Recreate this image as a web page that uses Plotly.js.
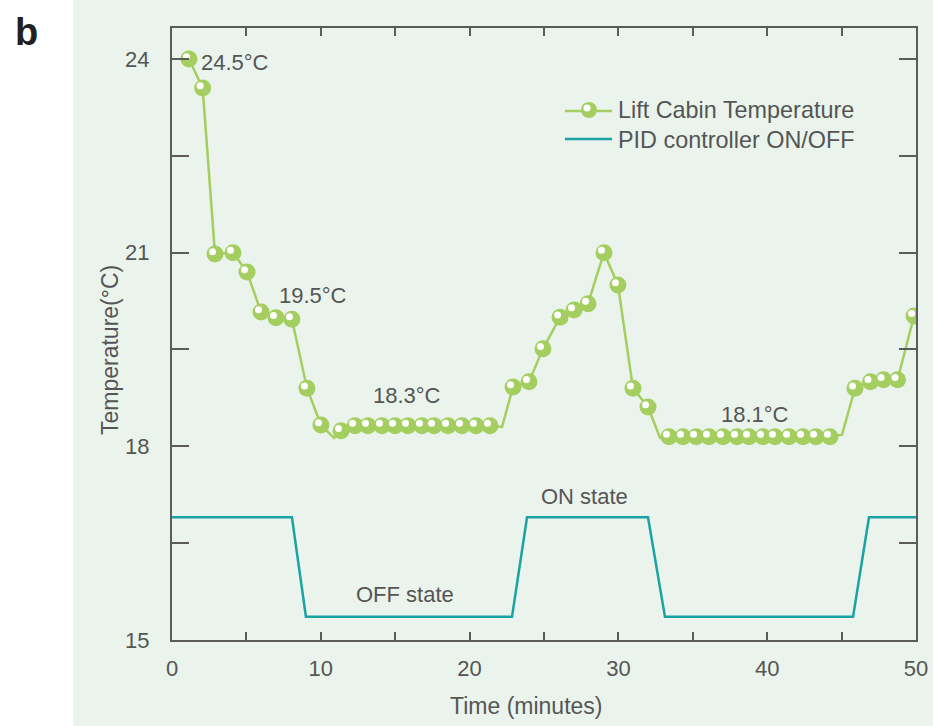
<!DOCTYPE html>
<html>
<head>
<meta charset="utf-8">
<script src="https://cdn.plot.ly/plotly-3.0.1.min.js"></script>
<style>html,body{margin:0;padding:0;background:#fff;}#chart{width:933px;height:726px;}</style>
</head>
<body>
<div id="chart"></div>
<script>
// Lift cabin temperature markers (minutes, °C)
const markerTime = [1.14, 2.06, 2.89, 4.10, 5.04, 5.98, 6.99, 8.06, 9.07, 10.01, 11.36,
  12.30, 13.17, 14.11, 14.99, 15.86, 16.80, 17.61, 18.55, 19.49, 20.43, 21.37,
  22.92, 23.99, 24.93, 26.08, 27.02, 27.96, 29.03, 29.97, 30.98, 31.99,
  33.40, 34.34, 35.22, 36.09, 37.03, 37.97, 38.78, 39.72, 40.52, 41.47, 42.41, 43.28, 44.22,
  45.90, 46.94, 47.82, 48.76, 49.87];
const markerTemp = [24.0, 23.55, 20.98, 21.0, 20.70, 20.08, 19.99, 19.97, 18.90, 18.33, 18.24,
  18.32, 18.32, 18.32, 18.32, 18.32, 18.32, 18.32, 18.32, 18.32, 18.32, 18.32,
  18.92, 19.0, 19.51, 20.0, 20.11, 20.21, 21.0, 20.50, 18.90, 18.61,
  18.15, 18.15, 18.15, 18.15, 18.15, 18.15, 18.15, 18.15, 18.15, 18.15, 18.15, 18.15, 18.15,
  18.90, 19.0, 19.03, 19.03, 20.02];
// Extra bends of the temperature line between markers
const bendTime = [10.89, 22.18, 32.80, 45.03];
const bendTemp = [18.13, 18.30, 18.13, 18.18];
// PID controller ON/OFF trace
const pidTime = [0, 8.06, 9.0, 22.85, 23.86, 31.99, 33.13, 45.77, 46.84, 50];
const pidLevel = [16.9, 16.9, 15.36, 15.36, 16.9, 16.9, 15.36, 15.36, 16.9, 16.9];
// Ticks
const xTickVals = [0, 5, 10, 15, 20, 25, 30, 35, 40, 45, 50];
const xTickText = ['0', '', '10', '', '20', '', '30', '', '40', '', '50'];
const yTickVals = [15, 16.5, 18, 19.5, 21, 22.5, 24];
const yTickText = ['15', '', '18', '', '21', '', '24'];
// Labels
const noteText = ['24.5°C', '19.5°C', '18.3°C', '18.1°C', 'ON state', 'OFF state'];
const noteX = [4.25, 9.5, 15.79, 39.18, 27.69, 15.66];
const noteY = [23.95, 20.34, 18.78, 18.50, 17.22, 15.70];
const seriesNames = ['Lift Cabin Temperature', 'PID controller ON/OFF'];

// merge markers and bends into one line path, sorted by time
const linePts = markerTime.map((t, i) => [t, markerTemp[i]])
  .concat(bendTime.map((t, i) => [t, bendTemp[i]]))
  .sort((a, b) => a[0] - b[0]);

const GREEN = '#a4cf60';
const TEAL = '#19a3a3';
const AXIS = '#5b5b5b';
const TXT = '#555555';
const BG = '#eaf4ec';
const FONT = 'Liberation Sans, Arial, sans-serif';

const xRange = [0, 50], yRange = [15, 24.48];
const L = 172, R = 17, T = 28, B = 86, W = 933, H = 726;
const pw = W - L - R, ph = H - T - B;
const pxX = px => (px - L) / pw;       // pixel -> paper x
const pxY = py => (H - B - py) / ph;   // pixel -> paper y
// small highlight offset (in data units) for the glossy marker look
const dx = -2.5 * (xRange[1] - xRange[0]) / pw;
const dy = 2.3 * (yRange[1] - yRange[0]) / ph;

const traces = [
  {x: pidTime, y: pidLevel, mode: 'lines', line: {color: TEAL, width: 2.5}, showlegend: false, hoverinfo: 'skip'},
  {x: linePts.map(p => p[0]), y: linePts.map(p => p[1]), mode: 'lines', line: {color: GREEN, width: 2.5}, showlegend: false, hoverinfo: 'skip'},
  {x: markerTime, y: markerTemp, mode: 'markers', marker: {color: GREEN, size: 17, line: {width: 0}}, showlegend: false},
  {x: markerTime.map(t => t + dx), y: markerTemp.map(v => v + dy), mode: 'markers', marker: {color: '#ffffff', size: 7, line: {width: 0}}, showlegend: false, hoverinfo: 'skip'}
];

const annotations = noteText.map((t, i) => ({
  x: noteX[i], y: noteY[i], xref: 'x', yref: 'y', text: t, showarrow: false,
  font: {family: FONT, size: 22, color: TXT}, xanchor: 'center', yanchor: 'middle'
}));
annotations.push(
  {xref: 'paper', yref: 'paper', x: pxX(526), y: pxY(706), text: 'Time (minutes)', showarrow: false,
   font: {family: FONT, size: 23, color: TXT}, xanchor: 'center', yanchor: 'middle'},
  {xref: 'paper', yref: 'paper', x: pxX(110), y: pxY(350), text: 'Temperature(°C)', textangle: -90, showarrow: false,
   font: {family: FONT, size: 23, color: TXT}, xanchor: 'center', yanchor: 'middle'},
  {xref: 'paper', yref: 'paper', x: pxX(26), y: pxY(32), text: '<b>b</b>', showarrow: false,
   font: {family: FONT, size: 38, color: '#231f20'}, xanchor: 'center', yanchor: 'middle'},
  {xref: 'paper', yref: 'paper', x: pxX(616), y: pxY(110), text: seriesNames[0], showarrow: false,
   font: {family: FONT, size: 23.4, color: TXT}, xanchor: 'left', yanchor: 'middle'},
  {xref: 'paper', yref: 'paper', x: pxX(616), y: pxY(140), text: seriesNames[1], showarrow: false,
   font: {family: FONT, size: 23.4, color: TXT}, xanchor: 'left', yanchor: 'middle'}
);

const shapes = [
  {type: 'rect', xref: 'paper', yref: 'paper', x0: pxX(73), x1: pxX(933), y0: pxY(726), y1: pxY(0),
   fillcolor: BG, line: {width: 0}, layer: 'below'},
  // legend keys
  {type: 'line', xref: 'paper', yref: 'paper', x0: pxX(565), x1: pxX(612), y0: pxY(111), y1: pxY(111),
   line: {color: GREEN, width: 2.5}},
  {type: 'circle', xref: 'paper', yref: 'paper', xsizemode: 'pixel', ysizemode: 'pixel',
   xanchor: pxX(589), yanchor: pxY(110), x0: -8, x1: 8, y0: -8, y1: 8, fillcolor: GREEN, line: {width: 0}},
  {type: 'circle', xref: 'paper', yref: 'paper', xsizemode: 'pixel', ysizemode: 'pixel',
   xanchor: pxX(587), yanchor: pxY(108), x0: -3.5, x1: 3.5, y0: -3.5, y1: 3.5, fillcolor: '#ffffff', line: {width: 0}},
  {type: 'line', xref: 'paper', yref: 'paper', x0: pxX(565), x1: pxX(612), y0: pxY(139), y1: pxY(139),
   line: {color: TEAL, width: 2.5}}
];

const layout = {
  width: W, height: H,
  margin: {l: L, r: R, t: T, b: B, pad: 0},
  paper_bgcolor: '#ffffff',
  plot_bgcolor: BG,
  showlegend: false,
  font: {family: FONT, color: TXT},
  xaxis: {
    range: xRange, tickmode: 'array', tickvals: xTickVals, ticktext: xTickText,
    ticks: 'inside', ticklen: 8, tickwidth: 2, tickcolor: AXIS,
    showline: true, linecolor: AXIS, linewidth: 2, mirror: 'ticks',
    showgrid: false, zeroline: false, ticklabelstandoff: 8,
    tickfont: {family: FONT, size: 22, color: TXT}
  },
  yaxis: {
    range: yRange, tickmode: 'array', tickvals: yTickVals, ticktext: yTickText,
    ticks: 'inside', ticklen: 17, tickwidth: 2, tickcolor: AXIS,
    showline: true, linecolor: AXIS, linewidth: 2, mirror: 'ticks',
    showgrid: false, zeroline: false, ticklabelstandoff: 16,
    tickfont: {family: FONT, size: 22, color: TXT}
  },
  annotations: annotations,
  shapes: shapes
};

Plotly.newPlot('chart', traces, layout, {displayModeBar: false, staticPlot: true});
</script>
</body>
</html>
